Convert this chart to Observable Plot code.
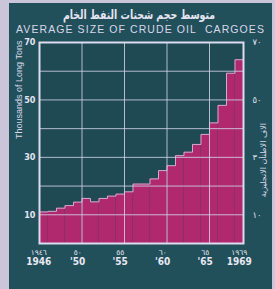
<!DOCTYPE html>
<html>
<head>
<meta charset="utf-8">
<script src="https://cdn.jsdelivr.net/npm/d3@7"></script>
<script src="https://cdn.jsdelivr.net/npm/@observablehq/plot@0.6"></script>
<style>
  html, body { margin: 0; padding: 0; }
  body { width: 275px; height: 289px; background: #cbc5da; overflow: hidden; position: relative; }
  #panel { position: absolute; left: 9px; top: 3px; width: 263px; height: 286px; background: #22505a; }
  #titleAr { position: absolute; left: 0; top: 7px; white-space: nowrap; transform-origin: 0 50%;
    font-family: "DejaVu Sans", sans-serif; font-weight: bold; font-size: 12.5px; color: #e6e4f2; line-height: 16px; }
  #titleEn { position: absolute; left: 16px; top: 23px; white-space: nowrap;
    font-family: "Liberation Sans", "DejaVu Sans", sans-serif; font-size: 10.5px; color: #d8d8ea; line-height: 13px; }
  #chart { position: absolute; left: 0; top: 36px; }
</style>
</head>
<body>
<div id="panel"></div>
<div id="titleAr">متوسط حجم شحنات النفط الخام</div>
<div id="titleEn">AVERAGE SIZE OF CRUDE OIL&nbsp; CARGOES</div>
<div id="chart"></div>
<script>
const years = [1946,1947,1948,1949,1950,1951,1952,1953,1954,1955,1956,1957,1958,1959,1960,1961,1962,1963,1964,1965,1966,1967,1968,1969];
const values = [11.0,11.2,12.3,13.2,14.4,15.7,14.5,15.7,16.5,17.2,18.0,20.7,20.7,22.5,25.4,27.1,30.6,31.8,34.5,38.0,42.0,48.1,59.3,64.0];
const xTickYears = [1946,1950,1955,1960,1965,1969];
const xTickLatin = ["1946","'50","'55","'60","'65","1969"];
const xTickArabic = ["١٩٤٦","٥٠","٥٥","٦٠","٦٥","١٩٦٩"];
const yTicks = [70,50,30,10];
const yTicksArabic = ["٧٠","٥٠","٣٠","١٠"];
const yGrid = [10,20,30,40,50,60];
const xGrid = [1951,1956,1961,1966];
const yLabel = "Thousands of Long Tons";
const yLabelAr = "الاف الاطنان الانجليزية";

// fit English title width
const en = document.getElementById("titleEn");
const w = en.getBoundingClientRect().width;
const n = en.textContent.length;
en.style.letterSpacing = ((249 - w) / n) + "px";

// fit Arabic title to 152px wide, centred on x = 139
const ar = document.getElementById("titleAr");
const aw = ar.getBoundingClientRect().width;
ar.style.transform = "scaleX(" + (152 / aw) + ")";
ar.style.left = (139 - 76) + "px";

const data = years.map((y, i) => ({year: y, value: values[i]}));
const stepPts = data.concat([{year: years[years.length-1] + 1, value: values[values.length-1]}]);
const xTicks = xTickYears.map((y, i) => ({year: y, latin: xTickLatin[i], arabic: xTickArabic[i]}));
const yT = yTicks.map((v, i) => ({v, ar: yTicksArabic[i]}));

const light = "#cfd0e6";
const narrow = "'Liberation Sans Narrow', 'DejaVu Sans Condensed', sans-serif";
const first = d => d.year === xTickYears[0];
const rest = d => d.year !== xTickYears[0];

const chart = Plot.plot({
  width: 275,
  height: 253,
  marginLeft: 39,
  marginRight: 32,
  marginTop: 6,
  marginBottom: 46,
  x: {domain: [1946, 1970], axis: null},
  y: {domain: [0, 70], axis: null},
  style: {background: "transparent", overflow: "visible"},
  marks: [
    Plot.frame({fill: "#1f4953", stroke: null}),
    Plot.rectY(data, {x1: "year", x2: d => d.year + 1, y: "value", fill: "#b0296f", inset: 0}),
    Plot.ruleY(yGrid, {stroke: light, strokeWidth: 1, strokeOpacity: 0.85}),
    Plot.ruleX(xGrid, {stroke: light, strokeWidth: 1, strokeOpacity: 0.85}),
    Plot.line(stepPts, {x: "year", y: "value", curve: "step-after", stroke: light, strokeWidth: 1, strokeOpacity: 0.8}),
    Plot.frame({stroke: "#dcdcf0", strokeWidth: 2}),
    Plot.text(yT, {y: "v", text: d => String(d.v), frameAnchor: "left", dx: -4, textAnchor: "end",
      fill: "#e4e4f2", fontSize: 9, fontWeight: "bold", fontFamily: narrow}),
    Plot.text(yT, {y: "v", text: "ar", frameAnchor: "right", dx: 9, textAnchor: "start",
      fill: "#e4e4f2", fontSize: 8.5, fontFamily: "DejaVu Sans, sans-serif"}),
    Plot.text(xTicks, {filter: rest, x: d => d.year + 0.5, text: "arabic", frameAnchor: "bottom", dy: 11,
      fill: "#e4e4f2", fontSize: 7.5, fontFamily: "DejaVu Sans, sans-serif"}),
    Plot.text(xTicks, {filter: first, x: d => d.year + 0.5, text: "arabic", frameAnchor: "bottom", dy: 11, dx: -5,
      fill: "#e4e4f2", fontSize: 7.5, fontFamily: "DejaVu Sans, sans-serif"}),
    Plot.text(xTicks, {filter: rest, x: d => d.year + 0.5, text: "latin", frameAnchor: "bottom", dy: 21,
      fill: "#e8e8f4", fontSize: 10, fontWeight: "bold", fontFamily: narrow}),
    Plot.text(xTicks, {filter: first, x: d => d.year + 0.5, text: "latin", frameAnchor: "bottom", dy: 21, dx: -5,
      fill: "#e8e8f4", fontSize: 10, fontWeight: "bold", fontFamily: narrow}),
    Plot.text([yLabel], {text: d => d, frameAnchor: "left", dx: -20, dy: -4, rotate: -90,
      fill: "#d8d8ea", fontSize: 9, fontFamily: "Liberation Sans, sans-serif"}),
    Plot.text([yLabelAr], {text: d => d, frameAnchor: "right", dx: 20, dy: -20, rotate: -90,
      fill: "#d8d8ea", fontSize: 8, fontFamily: "DejaVu Sans, sans-serif"})
  ]
});
document.getElementById("chart").appendChild(chart);
</script>
</body>
</html>
